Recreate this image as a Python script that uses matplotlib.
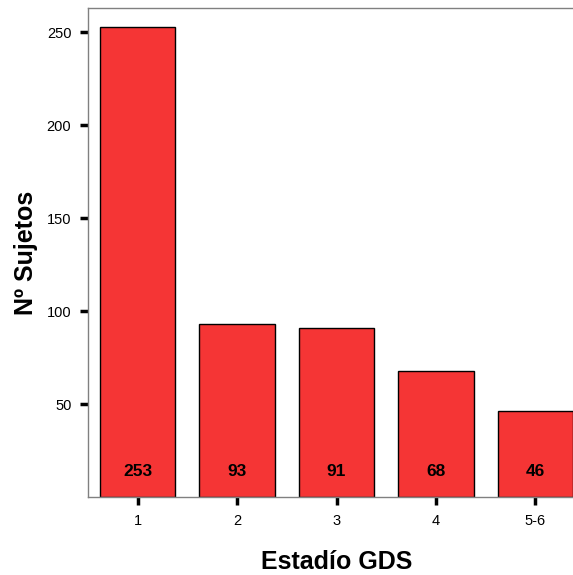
import matplotlib.pyplot as plt

categorias = ['1', '2', '3', '4', '5-6']
sujetos = [253, 93, 91, 68, 46]

plt.rcParams['font.family'] = ['Liberation Sans', 'DejaVu Sans']

fig = plt.figure(figsize=(5.73, 5.75), dpi=100)
W, H = 573, 575
left, right, top, bottom = 88, 585, 8, 497
ax = fig.add_axes([left / W, 1 - bottom / H, (right - left) / W, (bottom - top) / H])

x = list(range(len(categorias)))
ax.bar(x, sujetos, width=0.76, color='#f53535', edgecolor='black', linewidth=1)
for xi, v in zip(x, sujetos):
    ax.text(xi, 13.5, str(v), ha='center', va='center', fontsize=12.5, fontweight='bold')

ax.set_xlim(-0.5, 4.5)
ax.set_ylim(0, 263)
ax.set_xticks(x)
ax.set_xticklabels(categorias)
ax.set_yticks([50, 100, 150, 200, 250])

for s in ax.spines.values():
    s.set_color('#808080')
    s.set_linewidth(1)

ax.tick_params(axis='both', direction='out', length=6, width=2.5, color='black',
               labelsize=10.5, pad=6)

ax.set_xlabel('Estadío GDS', fontsize=18, fontweight='bold', labelpad=16)
ax.set_ylabel('Nº Sujetos', fontsize=18, fontweight='bold', labelpad=6)

plt.savefig('out.png', dpi=100)
